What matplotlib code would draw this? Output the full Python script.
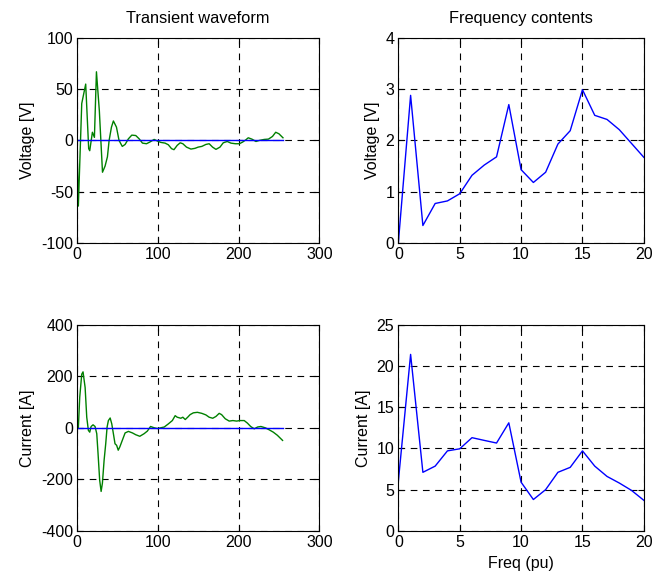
import matplotlib
matplotlib.use('Agg')
from matplotlib import pyplot as plt

plt.rcParams['font.family'] = ['Liberation Sans', 'DejaVu Sans']
plt.rcParams['font.size'] = 11
plt.rcParams['axes.unicode_minus'] = False

# transient voltage (samples, V)
v_t = [0, 1.6, 5.8, 10.7, 14.4, 15.7, 19.0, 21.5, 24.0, 27.6, 31.5, 34.7, 37.6,
       39.7, 42.6, 45.0, 48.8, 52.0, 56.0, 59.5, 63.6, 67.8, 72.7, 76.9, 81.0,
       86.0, 90.0, 95.5, 99.6, 103.7, 109.0, 113.0, 117.0, 120.0, 124.0, 127.7,
       131.0, 135.5, 141.0, 146.0, 150.0, 154.5, 159.5, 163.6, 167.8, 172.0,
       177.0, 181.0, 186.0, 190.5, 196.0, 201.0, 205.0, 209.0, 212.0, 216.5,
       221.5, 225.6, 231.8, 237.0, 242.0, 246.0, 250.0, 255.0]
v_y = [-5, -64, 36, 55, -8, -10, 8, 3, 67, 29, -31, -25, -16,
       0, 13, 19, 13, 0, -5.8, -3.9, 1.6, 5.2, 4.8, 1.6, -2.6,
       -3.2, -1.6, 1.0, -0.6, -1.9, -2.6, -4.2, -8.0, -9.0, -4.8, -2.3,
       -3.2, -6.5, -8.4, -7.7, -6.5, -5.8, -3.9, -3.2, -6.5, -8.7,
       -6.5, -2.3, -1.0, -2.6, -3.2, -3.2, -1.6, 0.6, 2.6, 1.3,
       -1.0, 0.0, 1.0, 1.3, 3.9, 8.0, 6.5, 2.6]

# transient current (samples, A)
i_t = [0, 1.6, 3.3, 5.8, 7.4, 10.0, 12.0, 14.0, 15.7, 17.4, 19.8, 22.3, 24.4,
       26.0, 28.0, 29.8, 31.4, 33.5, 35.5, 37.2, 38.8, 41.0, 43.0, 45.0, 47.0,
       49.0, 51.0, 53.0, 56.0, 59.5, 63.6, 68.6, 72.7, 77.7, 83.0, 87.0, 91.0,
       95.5, 99.6, 103.7, 108.0, 113.0, 118.0, 121.5, 124.0, 128.5, 131.0,
       134.0, 137.0, 140.0, 144.0, 149.0, 154.5, 159.5, 163.6, 168.0, 172.0,
       176.0, 179.0, 183.5, 188.4, 193.0, 197.5, 201.7, 207.0, 211.0, 215.0,
       219.4, 223.6, 227.7, 233.0, 238.0, 243.0, 248.0, 254.5]
i_y = [0, 0, 118, 208, 217, 156, 41, -10, -17, 5, 11.5, 5, -23,
       -100, -203, -247, -215, -126, -62, 3, 28, 38, 15, -23, -62,
       -68, -87, -74, -49, -20, -14, -20, -27, -33, -23, -13, 5,
       0, -3, 0, 3, 15, 28, 47, 41, 37, 41,
       32, 41, 51, 58, 60, 56, 50, 41, 37, 44,
       56, 51, 35, 26, 28, 26, 28, 28, 18, 5,
       -4, 3, 5, 0, -8, -17, -29, -49]

# frequency contents, 0..20 pu
freq = list(range(21))
v_mag = [0, 2.88, 0.34, 0.77, 0.82, 0.96, 1.32, 1.52, 1.68, 2.70, 1.43, 1.18,
         1.38, 1.93, 2.19, 2.99, 2.49, 2.41, 2.21, 1.94, 1.67]
i_mag = [6.0, 21.4, 7.1, 7.85, 9.7, 9.95, 11.3, 10.97, 10.65, 13.1, 5.9, 3.8,
         5.0, 7.1, 7.7, 9.7, 7.85, 6.6, 5.8, 4.9, 3.7]

fig = plt.figure(figsize=(6.53, 5.84), dpi=100)
ax1 = fig.add_axes([0.118, 0.584, 0.371, 0.351])
ax2 = fig.add_axes([0.610, 0.584, 0.376, 0.351])
ax3 = fig.add_axes([0.118, 0.091, 0.371, 0.353])
ax4 = fig.add_axes([0.610, 0.091, 0.376, 0.353])

green = (0, 0.5, 0)
ax1.plot(v_t, v_y, color=green, lw=1.0)
ax1.plot([0, 255], [0, 0], color='#0000ff', lw=1.0)
ax3.plot(i_t, i_y, color=green, lw=1.0)
ax3.plot([0, 255], [0, 0], color='#0000ff', lw=1.0)
ax2.plot(freq, v_mag, color='#0000ff', lw=1.0)
ax4.plot(freq, i_mag, color='#0000ff', lw=1.0)

ax1.set_xlim(0, 300)
ax1.set_ylim(-100, 100)
ax1.set_xticks([0, 100, 200, 300])
ax1.set_yticks([-100, -50, 0, 50, 100])
ax3.set_xlim(0, 300)
ax3.set_ylim(-400, 400)
ax3.set_xticks([0, 100, 200, 300])
ax3.set_yticks([-400, -200, 0, 200, 400])
ax2.set_xlim(0, 20)
ax2.set_ylim(0, 4)
ax2.set_xticks([0, 5, 10, 15, 20])
ax2.set_yticks([0, 1, 2, 3, 4])
ax4.set_xlim(0, 20)
ax4.set_ylim(0, 25)
ax4.set_xticks([0, 5, 10, 15, 20])
ax4.set_yticks([0, 5, 10, 15, 20, 25])

ax1.set_title('Transient waveform', fontsize=11.8, pad=11)
ax2.set_title('Frequency contents', fontsize=11.8, pad=11)
ax1.set_ylabel('Voltage [V]', fontsize=11.5)
ax2.set_ylabel('Voltage [V]', fontsize=11.5)
ax3.set_ylabel('Current [A]', fontsize=11.5)
ax4.set_ylabel('Current [A]', fontsize=11.5)
ax4.set_xlabel('Freq (pu)', fontsize=11.5)

for ax in (ax1, ax2, ax3, ax4):
    ax.grid(True, color='black', linestyle=(0, (6, 5)), linewidth=0.8)
    ax.tick_params(direction='in', length=4, width=0.8, top=True, right=True,
                   labelsize=11.5, pad=3)
    for s in ax.spines.values():
        s.set_linewidth(0.8)

fig.savefig('out.png', dpi=100)
